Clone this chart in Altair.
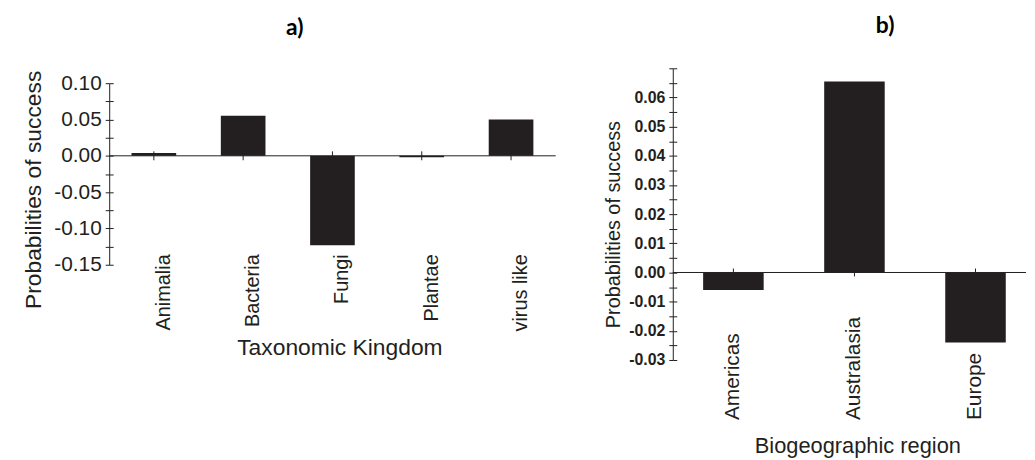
import altair as alt
import pandas as pd

# ---------------- data ----------------
kingdoms = ["Animalia", "Bacteria", "Fungi", "Plantae", "virus like"]
kingdom_values = [0.004, 0.055, -0.123, -0.002, 0.050]

regions = ["Americas", "Australasia", "Europe"]
region_values = [-0.006, 0.0655, -0.024]

a_tick_values = [-0.15, -0.125, -0.1, -0.075, -0.05, -0.025, 0.0, 0.025, 0.05, 0.075, 0.1]
b_tick_values = [-0.03, -0.025, -0.02, -0.015, -0.01, -0.005, 0.0, 0.005, 0.01, 0.015,
                 0.02, 0.025, 0.03, 0.035, 0.04, 0.045, 0.05, 0.055, 0.06, 0.065, 0.07]
zero_line = [0.0]

INK = "#231f20"
FONT = "Liberation Sans"

df_a = pd.DataFrame({"kingdom": kingdoms, "value": kingdom_values})
df_b = pd.DataFrame({"region": regions, "value": region_values})
df_zero = pd.DataFrame({"zero": zero_line})

W_A, H_A = 450, 198
W_B, H_B = 356, 294

label_a = ("abs(round(datum.value*1000)) % 50 == 0 ? "
           "(datum.value < -0.0001 ? '-' : '') + format(abs(datum.value), '.2f') : ''")
label_b = ("abs(round(datum.value*1000)) % 10 == 0 && datum.value < 0.065 ? "
           "(datum.value < -0.0001 ? '-' : '') + format(abs(datum.value), '.2f') : ''")

# ---------------- panel a ----------------
ya_scale = alt.Scale(domain=[-0.15, 0.10], range=[H_A, 15], nice=False, zero=False)
xa_scale = alt.Scale(paddingInner=0.5, paddingOuter=0.25)

xa = alt.X("kingdom:N", sort=kingdoms, scale=xa_scale,
           axis=alt.Axis(title="Taxonomic Kingdom", labelAngle=270, labelAlign="right",
                         labelBaseline="top", labelFontSize=20, labelPadding=0,
                         ticks=False, tickSize=0, domain=False, offset=-11,
                         titleFontSize=23, titleFontWeight="normal", titlePadding=6,
                         titleX=232, labelOverlap=False))

bars_a = alt.Chart(df_a).mark_bar(color=INK).encode(
    x=xa,
    y=alt.Y("value:Q", scale=ya_scale,
            axis=alt.Axis(values=a_tick_values, labelExpr=label_a, tickSize=4, labelPadding=4,
                          labelFontSize=21, title="Probabilities of success", titleFontSize=23,
                          titleFontWeight="normal", titlePadding=8, titleY=122,
                          labelOverlap=False, grid=False)),
)
cross_a = alt.Chart(df_a).mark_point(shape="M0,-1L0,1", size=81, filled=False,
                                     strokeWidth=1, color=INK, opacity=1).encode(
    x=alt.X("kingdom:N", sort=kingdoms),
    y=alt.Y(datum=0, type="quantitative", axis=None),
)
zero_a = alt.Chart(df_zero).mark_rule(color=INK, strokeWidth=1).encode(
    y=alt.Y("zero:Q",
            axis=alt.Axis(orient="right", offset=-W_A, labels=False, domain=False,
                          values=a_tick_values, tickSize=4, title=None, grid=False)),
)
panel_a = alt.layer(cross_a, bars_a, zero_a).resolve_axis(y="independent").properties(
    width=W_A, height=H_A,
    title=alt.TitleParams("a)", font="Lato", fontSize=23, fontWeight="bold", color="black",
                          anchor="middle", dx=-38, offset=6, baseline="bottom"),
)

# ---------------- panel b ----------------
yb_scale = alt.Scale(domain=[-0.03, 0.07], nice=False, zero=False)
xb_scale = alt.Scale(paddingInner=0.5, paddingOuter=0.209, align=0.6)

xb = alt.X("region:N", sort=regions, scale=xb_scale,
           axis=alt.Axis(title="Biogeographic region", labelAngle=270, labelAlign="left",
                         labelBaseline="middle", labelFontSize=21, labelPadding=60,
                         ticks=False, tickSize=0, domain=False,
                         titleFontSize=22, titleFontWeight="normal", titlePadding=16,
                         titleX=186, labelOverlap=False))

bars_b = alt.Chart(df_b).mark_bar(color=INK).encode(
    x=xb,
    y=alt.Y("value:Q", scale=yb_scale,
            axis=alt.Axis(values=b_tick_values, labelExpr=label_b, tickSize=4, labelPadding=4,
                          labelFontSize=16, labelFontWeight="bold",
                          title="Probabilities of success", titleFontSize=20,
                          titleFontWeight="normal", titlePadding=5, titleY=157,
                          labelOverlap=False, grid=False)),
)
cross_b = alt.Chart(df_b).mark_point(shape="M0,-1L0,1", size=64, filled=False,
                                     strokeWidth=1, color=INK, opacity=1).encode(
    x=alt.X("region:N", sort=regions),
    y=alt.Y(datum=0, type="quantitative", axis=None),
)
zero_b = alt.Chart(df_zero).mark_rule(color=INK, strokeWidth=1).encode(
    y=alt.Y("zero:Q",
            axis=alt.Axis(orient="right", offset=-W_B, labels=False, domain=False,
                          values=b_tick_values, tickSize=4, title=None, grid=False)),
)
panel_b = alt.layer(cross_b, bars_b, zero_b).resolve_axis(y="independent").properties(
    width=W_B, height=H_B,
    title=alt.TitleParams("b)", font="Lato", fontSize=23, fontWeight="bold", color="black",
                          anchor="middle", dx=36, offset=0, baseline="bottom"),
)

chart = alt.hconcat(panel_a, panel_b, spacing=47).properties(
    padding={"left": 15, "top": 5, "right": 0, "bottom": 0},
    background="white",
).configure(font=FONT).configure_view(strokeWidth=0).configure_axis(
    labelColor=INK, titleColor=INK, domainColor=INK, tickColor=INK,
    domainWidth=1, tickWidth=1, grid=False,
)

chart.save("out.html", embed_options={"renderer": "svg", "actions": False})
